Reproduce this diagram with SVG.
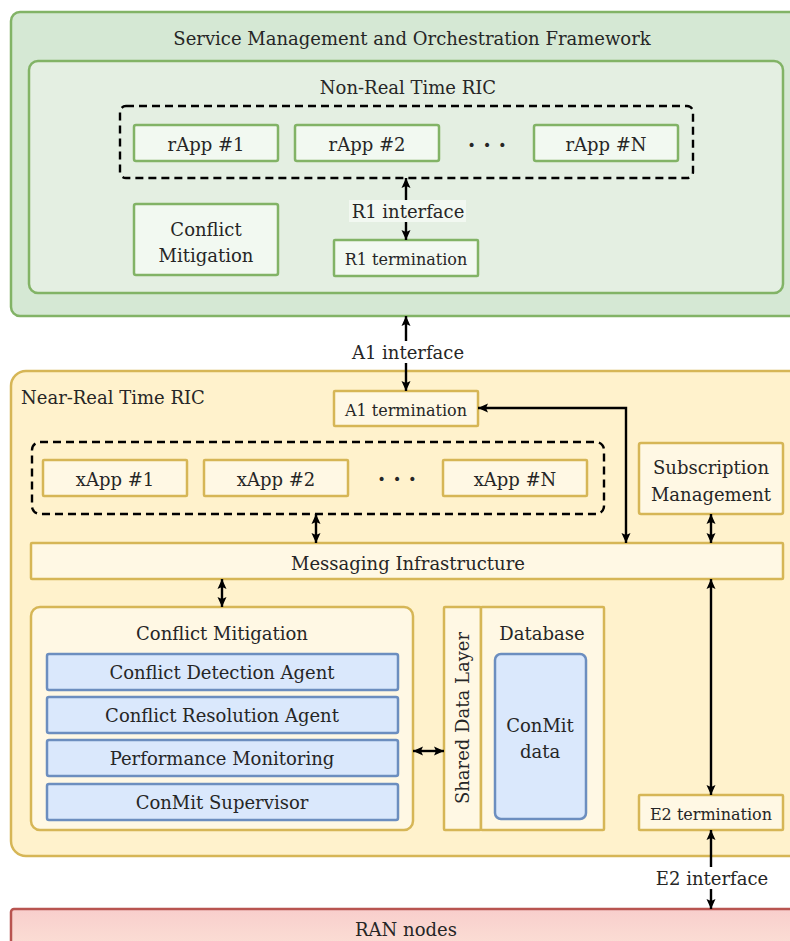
<svg xmlns="http://www.w3.org/2000/svg" width="790" height="941" viewBox="0 0 790 941">
  <style>
    text { font-family: "DejaVu Serif", "Liberation Serif", serif; font-size: 18px; fill: #262626; text-anchor: middle; }
    .sm { font-size: 16px; }
    .left { text-anchor: start; }
    .dots { font-size: 22px; font-weight: bold; }
    .g-outer { fill: #d5e8d4; stroke: #82b366; stroke-width: 2.5; }
    .g-inner { fill: #e4efe2; stroke: #82b366; stroke-width: 2.5; }
    .g-box { fill: #f2f9f1; stroke: #82b366; stroke-width: 2.5; }
    .y-outer { fill: #fff2cc; stroke: #d6b656; stroke-width: 2.5; }
    .y-box { fill: #fff8e4; stroke: #d6b656; stroke-width: 2.5; }
    .b-box { fill: #dae8fc; stroke: #6c8ebf; stroke-width: 2.5; }
    .dash { fill: none; stroke: #000; stroke-width: 2.4; stroke-dasharray: 8 5; }
    .conn { fill: none; stroke: #000; stroke-width: 2.4; marker-end: url(#head); }
    .both { marker-start: url(#head); }
  </style>
  <defs>
    <marker id="head" markerUnits="userSpaceOnUse" markerWidth="11" markerHeight="10" refX="10" refY="5" orient="auto-start-reverse">
      <path d="M0,0.5 L10,5 L0,9.5 L2,5 z" fill="#000"/>
    </marker>
    <linearGradient id="ranFill" x1="0" y1="0" x2="0" y2="1">
      <stop offset="0" stop-color="#f8cecc"/>
      <stop offset="1" stop-color="#fde8da"/>
    </linearGradient>
  </defs>

  <!-- Service Management and Orchestration Framework -->
  <g id="smo">
    <rect class="g-outer" x="11" y="12" width="800" height="304" rx="9"/>
    <text x="412" y="45">Service Management and Orchestration Framework</text>
  </g>
  <g id="non-rt-ric">
    <rect class="g-inner" x="29" y="61" width="754" height="232" rx="9"/>
    <text x="408" y="94">Non-Real Time RIC</text>
  </g>
  <g id="rapps">
    <rect class="dash" x="120" y="106" width="573" height="72" rx="6"/>
  </g>
  <g id="rapp-1">
    <rect class="g-box" x="134" y="125" width="144" height="36" rx="2"/>
    <text x="206" y="151">rApp #1</text>
  </g>
  <g id="rapp-2">
    <rect class="g-box" x="295" y="125" width="144" height="36" rx="2"/>
    <text x="367" y="151">rApp #2</text>
  </g>
  <text class="dots" x="487" y="153">· · ·</text>
  <g id="rapp-n">
    <rect class="g-box" x="534" y="125" width="144" height="36" rx="2"/>
    <text x="606" y="151">rApp #N</text>
  </g>
  <g id="conflict-mitigation-nrt">
    <rect class="g-box" x="134" y="204" width="144" height="71" rx="2"/>
    <text x="206" y="236">Conflict</text>
    <text x="206" y="262">Mitigation</text>
  </g>
  <g id="r1-termination">
    <rect class="g-box" x="334" y="240" width="144" height="36" rx="1"/>
    <text class="sm" x="406" y="265">R1 termination</text>
  </g>

  <!-- Near-Real Time RIC -->
  <g id="near-rt-ric">
    <rect class="y-outer" x="11" y="371" width="800" height="485" rx="15"/>
    <text class="left" x="21" y="404">Near-Real Time RIC</text>
  </g>
  <g id="a1-termination">
    <rect class="y-box" x="334" y="391" width="144" height="35" rx="1"/>
    <text class="sm" x="406" y="416">A1 termination</text>
  </g>
  <g id="xapps">
    <rect class="dash" x="32" y="442" width="572" height="72" rx="8"/>
  </g>
  <g id="xapp-1">
    <rect class="y-box" x="43" y="460" width="144" height="36" rx="1"/>
    <text x="115" y="486">xApp #1</text>
  </g>
  <g id="xapp-2">
    <rect class="y-box" x="204" y="460" width="144" height="36" rx="1"/>
    <text x="276" y="486">xApp #2</text>
  </g>
  <text class="dots" x="397" y="487">· · ·</text>
  <g id="xapp-n">
    <rect class="y-box" x="443" y="460" width="144" height="36" rx="1"/>
    <text x="515" y="486">xApp #N</text>
  </g>
  <g id="subscription-management">
    <rect class="y-box" x="639" y="443" width="144" height="71" rx="2"/>
    <text x="711" y="474">Subscription</text>
    <text x="711" y="501">Management</text>
  </g>
  <g id="messaging-infrastructure">
    <rect class="y-box" x="31" y="543" width="752" height="36" rx="1"/>
    <text x="408" y="570">Messaging Infrastructure</text>
  </g>
  <g id="conflict-mitigation">
    <rect class="y-box" x="31" y="607" width="382" height="223" rx="9"/>
    <text x="222" y="640">Conflict Mitigation</text>
    <rect class="b-box" x="47" y="654" width="351" height="36" rx="2"/>
    <text x="222" y="679">Conflict Detection Agent</text>
    <rect class="b-box" x="47" y="697" width="351" height="36" rx="2"/>
    <text x="222" y="722">Conflict Resolution Agent</text>
    <rect class="b-box" x="47" y="740" width="351" height="36" rx="2"/>
    <text x="222" y="765">Performance Monitoring</text>
    <rect class="b-box" x="47" y="784" width="351" height="36" rx="2"/>
    <text x="222" y="809">ConMit Supervisor</text>
  </g>
  <g id="shared-data-layer">
    <rect class="y-box" x="444" y="607" width="37" height="223" rx="1"/>
    <text transform="translate(469,718) rotate(-90)">Shared Data Layer</text>
  </g>
  <g id="database">
    <rect class="y-box" x="481" y="607" width="123" height="223" rx="1"/>
    <text x="542" y="640">Database</text>
    <rect class="b-box" x="495" y="654" width="91" height="165" rx="6"/>
    <text x="540" y="732">ConMit</text>
    <text x="540" y="758">data</text>
  </g>
  <g id="e2-termination">
    <rect class="y-box" x="639" y="795" width="144" height="35" rx="1"/>
    <text class="sm" x="711" y="820">E2 termination</text>
  </g>

  <!-- RAN -->
  <g id="ran-nodes">
    <rect x="11" y="909" width="800" height="60" rx="3" fill="url(#ranFill)" stroke="#b85450" stroke-width="2.5"/>
    <text x="406" y="936">RAN nodes</text>
  </g>

  <!-- Connectors -->
  <g id="connectors">
    <path class="conn both" d="M406,178 V240"/>
    <path class="conn both" d="M406,316 V391"/>
    <path class="conn both" d="M478,408 H626 V543"/>
    <path class="conn both" d="M316,514 V543"/>
    <path class="conn both" d="M711,514 V543"/>
    <path class="conn both" d="M222,579 V607"/>
    <path class="conn both" d="M711,579 V795"/>
    <path class="conn both" d="M413,751 H444"/>
    <path class="conn both" d="M711,830 V909"/>
  </g>

  <!-- Interface labels -->
  <g id="r1-interface">
    <rect x="349" y="200" width="117" height="22" fill="#f2f8f1"/>
    <text x="408" y="218">R1 interface</text>
  </g>
  <g id="a1-interface">
    <rect x="349" y="341" width="117" height="22" fill="#ffffff"/>
    <text x="408" y="359">A1 interface</text>
  </g>
  <g id="e2-interface">
    <rect x="654" y="867" width="116" height="22" fill="#ffffff"/>
    <text x="712" y="885">E2 interface</text>
  </g>
</svg>
